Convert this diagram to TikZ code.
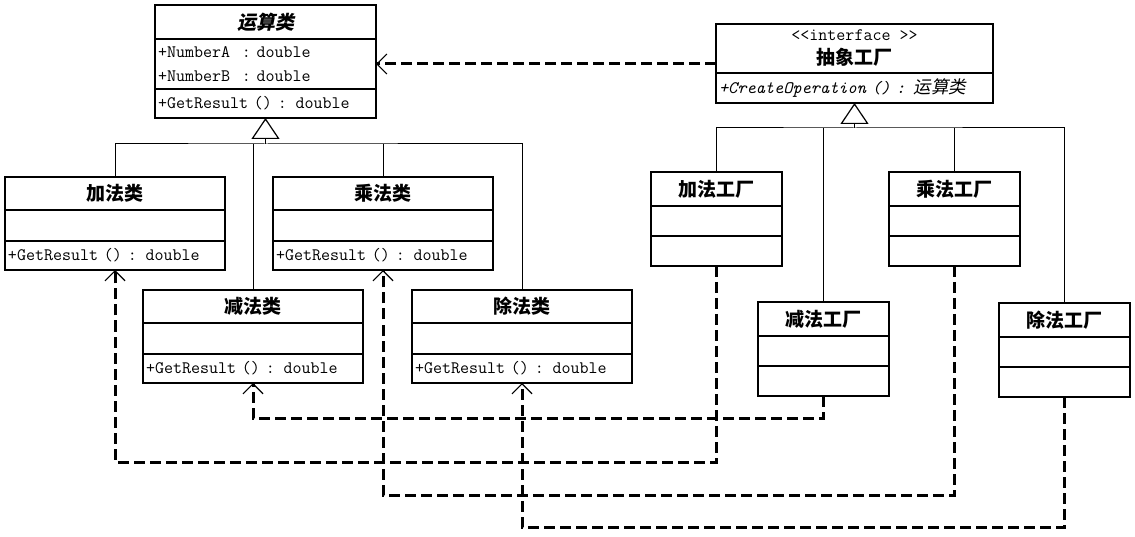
\documentclass[tikz,border=0pt]{standalone}
\usepackage{fontspec}
\setmainfont{Liberation Serif}
\newfontfamily\cjk{Noto Sans CJK SC}
\newfontfamily\cjksl[FakeSlant=0.2]{Noto Sans CJK SC}
\usetikzlibrary{positioning, arrows.meta}

\tikzset{
  head/.style = {draw, line width=1.5pt, outer sep=0pt, inner sep=0pt, anchor=north west, font=\cjk\bfseries\fontsize{19}{19}\selectfont},
  part/.style = {draw, line width=1.5pt, outer sep=0pt, inner xsep=3pt, inner ysep=0pt, align=left, font=\ttfamily\fontsize{17.5}{24}\selectfont},
  inh/.style = {line width=1pt},
  dep/.style = {line width=3pt, dash pattern=on 11pt off 5pt, -{Straight Barb[length=10pt, width=20pt, line width=1.2pt]}},
}

\begin{document}
\begin{tikzpicture}[x=1pt, y=-1pt]
\fill[white] (0,0) rectangle (1135,537);
\useasboundingbox (0,0) rectangle (1135,537);

% abstract operation class
\node[head, minimum width=221pt, minimum height=34pt] (op) at (155,5) {\cjksl\bfseries 运算类};
\node[part, text width=215pt, minimum height=50pt, below=0pt of op] (op-a) {+NumberA~~: double\\+NumberB~~: double};
\node[part, text width=215pt, minimum height=29pt, below=0pt of op-a] (op-o) {+GetResult () : double};

% concrete operations
\foreach \n/\x/\y/\t in {add/5/177/加法类, mul/273/177/乘法类, sub/143/290/减法类, div/412/290/除法类}{
  \node[head, minimum width=220pt, minimum height=33pt] (\n) at (\x,\y) {\t};
  \node[part, text width=214pt, minimum height=31pt, below=0pt of \n] (\n-a) {};
  \node[part, text width=214pt, minimum height=29pt, below=0pt of \n-a] (\n-o) {+GetResult () : double};
}

% factory interface
\node[head, minimum width=277pt, minimum height=49pt, align=center, font=\cjk\bfseries\fontsize{19}{24}\selectfont] (fac) at (716,24) {{\ttfamily\mdseries\fontsize{17.5}{24}\selectfont <<interface >>}\\抽象工厂};
\node[part, text width=271pt, minimum height=30pt, below=0pt of fac, font=\ttfamily\itshape\fontsize{17.5}{24}\selectfont] (fac-o) {+CreateOperation () : {\cjksl 运算类}};

% concrete factories
\foreach \n/\x/\y/\t in {addF/651/172/加法工厂, mulF/889/172/乘法工厂, subF/758/302/减法工厂, divF/999/303/除法工厂}{
  \node[head, minimum width=131pt, minimum height=34pt] (\n) at (\x,\y) {\t};
  \node[part, text width=125pt, minimum height=30pt, below=0pt of \n] (\n-a) {};
  \node[part, text width=125pt, minimum height=30pt, below=0pt of \n-a] (\n-o) {};
}

% generalisation
\path (op-o.south) ++(0,26) coordinate (opj);
\draw[inh] (add.north) |- (opj) -| (div.north);
\draw[inh] (sub.north) -- (sub.north |- opj);
\draw[inh] (mul.north) -- (mul.north |- opj);
\draw[inh, -{Triangle[open, length=21pt, width=28pt, line width=1.2pt]}] (opj) -- (op-o.south);

\path (fac-o.south) ++(0,25) coordinate (facj);
\draw[inh] (addF.north) |- (facj) -| (divF.north);
\draw[inh] (subF.north) -- (subF.north |- facj);
\draw[inh] (mulF.north) -- (mulF.north |- facj);
\draw[inh, -{Triangle[open, length=21pt, width=28pt, line width=1.2pt]}] (facj) -- (fac-o.south);

% dependencies
\draw[dep] (fac.west |- op-a.east) -- (op-a.east);
\draw[dep] (subF-o.south) -- ++(0,22) -| (sub-o.south);
\draw[dep] (addF-o.south) -- ++(0,196) -| (add-o.south);
\draw[dep] (mulF-o.south) -- ++(0,229) -| (mul-o.south);
\draw[dep] (divF-o.south) -- ++(0,130) -| (div-o.south);
\end{tikzpicture}
\end{document}
